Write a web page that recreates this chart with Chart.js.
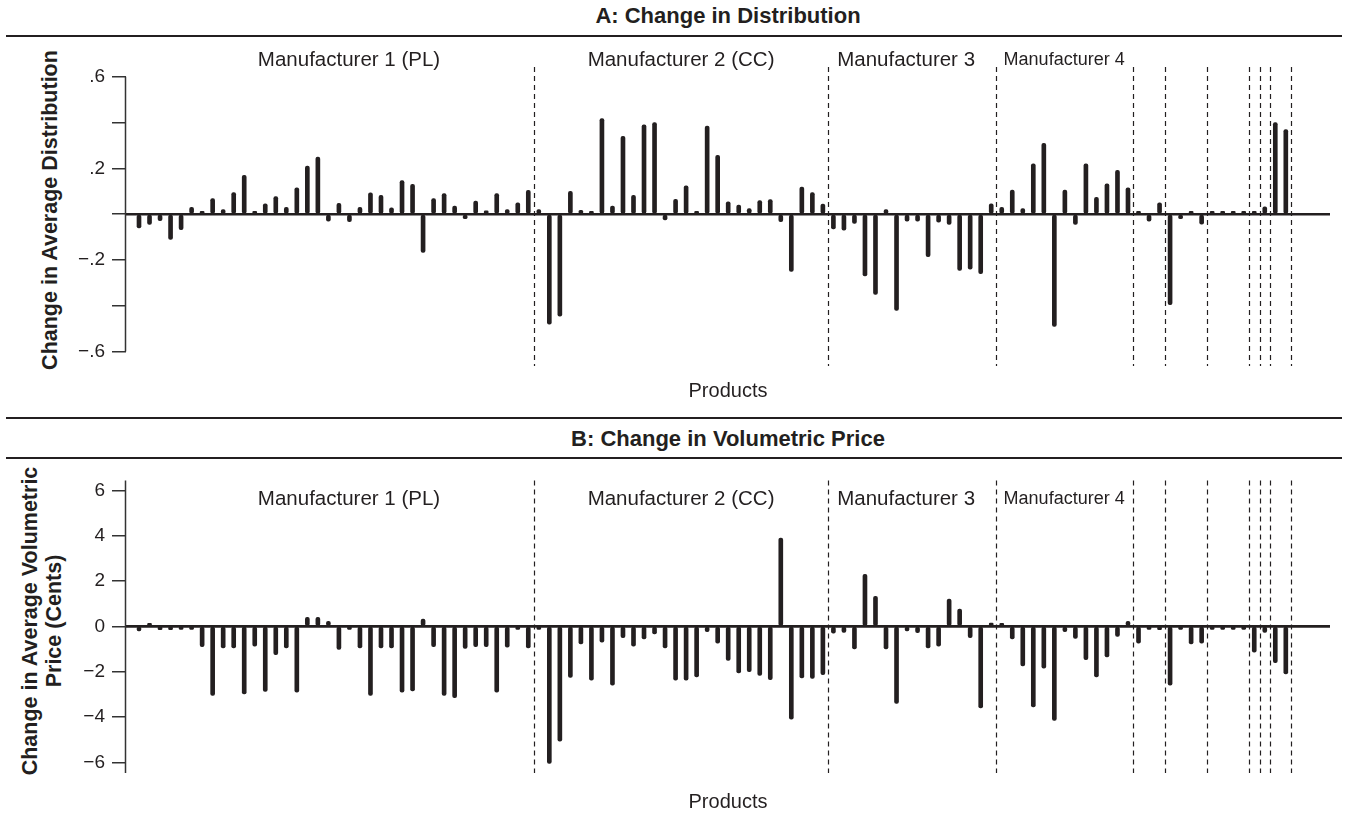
<!DOCTYPE html>
<html>
<head>
<meta charset="utf-8">
<title>Change in Distribution and Volumetric Price by Product</title>
<script src="https://cdn.jsdelivr.net/npm/chart.js@4.4.1/dist/chart.umd.min.js"></script>
<style>
  body { margin: 0; background: #fff; font-family: 'Liberation Sans', Arial, Helvetica, sans-serif; color: #231f20; }
  #page { position: relative; width: 1347px; height: 819px; overflow: hidden; }
  .rule { position: absolute; left: 6px; width: 1336px; height: 2px; background: #231f20; }
  .ptitle { position: absolute; left: 126px; width: 1204px; text-align: center; font-weight: bold; font-size: 22px; line-height: 24px; }
  .xtitle { position: absolute; left: 126px; width: 1204px; text-align: center; font-size: 20px; line-height: 22px; }
  .ytitle { position: absolute; font-weight: bold; font-size: 21.5px; line-height: 24px; text-align: center; white-space: nowrap;
            transform: translate(-50%, -50%) rotate(-90deg); }
  canvas { position: absolute; left: 0; }
</style>
</head>
<body>
<div id="page">
  <div class="ptitle" style="top:4px">A: Change in Distribution</div>
  <div class="rule" style="top:35px"></div>
  <div class="ytitle" style="left:50px; top:210px">Change in Average Distribution</div>
  <canvas id="panelA" width="1347" height="370" style="top:40px"></canvas>
  <div class="xtitle" style="top:379px">Products</div>

  <div class="rule" style="top:417px"></div>
  <div class="ptitle" style="top:427px">B: Change in Volumetric Price</div>
  <div class="rule" style="top:457px"></div>
  <div class="ytitle" style="left:42px; top:621px">Change in Average Volumetric<br>Price (Cents)</div>
  <canvas id="panelB" width="1347" height="357" style="top:462px"></canvas>
  <div class="xtitle" style="top:790px">Products</div>
</div>

<script>
// Change in average distribution, one value per product (products ordered by manufacturer)
const distChange = [
  -0.06, -0.045, -0.028, -0.11, -0.067, 0.03, 0.005, 0.068, 0.02, 0.095,
  0.17, 0.005, 0.045, 0.077, 0.03, 0.115, 0.21, 0.25, -0.03, 0.047,
  -0.033, 0.03, 0.093, 0.082, 0.028, 0.147, 0.13, -0.167, 0.068, 0.09,
  0.036, -0.02, 0.057, 0.015, 0.09, 0.02, 0.05, 0.104,
  0.02, -0.48, -0.445, 0.1, 0.017, 0.01, 0.418, 0.035, 0.34, 0.083,
  0.39, 0.40, -0.025, 0.065, 0.124, 0.01, 0.385, 0.257, 0.054, 0.04,
  0.025, 0.06, 0.064, -0.033, -0.25, 0.118, 0.095, 0.044,
  -0.064, -0.07, -0.04, -0.27, -0.35, 0.02, -0.42, -0.03, -0.03, -0.185,
  -0.035, -0.045, -0.245, -0.24, -0.26, 0.045,
  0.03, 0.105, 0.025, 0.22, 0.31, -0.49, 0.105, -0.045, 0.22, 0.074,
  0.133, 0.192, 0.115,
  0.005, -0.03, 0.05,
  -0.395, -0.02, 0.005, -0.043,
  0.003, 0.003, 0.003, 0.003,
  0.003,
  0.032,
  0.4, 0.37
];

// Change in average volumetric price (cents), same product order
const priceChange = [
  -0.2, 0.05, -0.15, -0.15, -0.12, -0.1, -0.9, -3.05, -0.95, -0.95,
  -2.98, -0.87, -2.87, -1.25, -0.95, -2.9, 0.4, 0.4, 0.22, -1.02,
  -0.12, -0.95, -3.05, -0.95, -0.95, -2.9, -2.85, 0.32, -0.9, -3.05,
  -3.15, -0.97, -0.9, -0.9, -2.9, -0.92, -0.08, -0.95,
  -0.05, -6.05, -5.07, -2.25, -0.78, -2.37, -0.7, -2.6, -0.5, -0.87,
  -0.55, -0.33, -0.95, -2.37, -2.37, -2.23, -0.23, -0.74, -1.5, -2.05,
  -2.0, -2.17, -2.35, 3.9, -4.1, -2.27, -2.3, -2.13,
  -0.3, -0.27, -1.0, 2.3, 1.33, -1.0, -3.4, -0.2, -0.28, -0.95,
  -0.87, 1.2, 0.76, -0.5, -3.6, 0.15,
  0.05, -0.55, -1.75, -3.55, -1.85, -4.15, -0.23, -0.53, -1.47, -2.23,
  -1.35, -0.44, 0.22,
  -0.74, -0.05, -0.15,
  -2.6, -0.05, -0.77, -0.74,
  -0.08, -0.08, -0.08, -0.05,
  -1.14,
  -0.27,
  -1.6, -2.1
];

// Product numbers along the horizontal axis
const productNo = distChange.map((_, i) => i + 1);

// Last product of each manufacturer group; a dashed separator follows each one
const groupEnds = [38, 66, 82, 95, 98, 102, 106, 107, 108, 110];

// Manufacturer captions and the product position each is centred on
const groupNames = ['Manufacturer 1 (PL)', 'Manufacturer 2 (CC)', 'Manufacturer 3', 'Manufacturer 4'];
const groupNameAt = [20.96, 52.52, 73.91, 88.93];

// Tick values and tick labels of the two value axes
const distTicks = [-0.6, -0.4, -0.2, 0, 0.2, 0.4, 0.6];
const distTickLabels = ['\u2212.6', '', '\u2212.2', '', '.2', '', '.6'];
const priceTicks = [-6, -4, -2, 0, 2, 4, 6];
const priceTickLabels = ['\u22126', '\u22124', '\u22122', '0', '2', '4', '6'];

const INK = '#231f20';
const FONT = "'Liberation Sans', Arial, Helvetica, sans-serif";
Chart.defaults.font.family = FONT;
Chart.defaults.color = INK;

// Separators, zero line, value-axis line and group captions
const panelDecor = {
  id: 'panelDecor',
  afterDatasetsDraw(chart, args, o) {
    const { ctx, chartArea: a, scales: { x, y } } = chart;
    ctx.save();
    ctx.strokeStyle = INK;
    ctx.lineWidth = 1.2;
    ctx.setLineDash([5, 4]);
    groupEnds.forEach(g => {
      const px = Math.round(x.getPixelForValue(g + 0.5)) + 0.5;
      ctx.beginPath();
      ctx.moveTo(px, a.top);
      ctx.lineTo(px, a.bottom);
      ctx.stroke();
    });
    ctx.setLineDash([]);

    const y0 = y.getPixelForValue(0);
    ctx.lineWidth = 2.6;
    ctx.beginPath();
    ctx.moveTo(a.left, y0);
    ctx.lineTo(a.right, y0);
    ctx.stroke();

    ctx.strokeStyle = '#333';
    ctx.lineWidth = 1.5;
    ctx.beginPath();
    ctx.moveTo(a.left - 0.5, y.getPixelForValue(o.axisFrom));
    ctx.lineTo(a.left - 0.5, y.getPixelForValue(o.axisTo));
    ctx.stroke();

    ctx.fillStyle = INK;
    ctx.textAlign = 'center';
    ctx.textBaseline = 'middle';
    const ly = y.getPixelForValue(o.captionAt);
    groupNames.forEach((name, i) => {
      ctx.font = (i === 3 ? 18 : 20.5) + 'px ' + FONT;
      ctx.fillText(name, x.getPixelForValue(groupNameAt[i]), ly);
    });
    ctx.restore();
  }
};

function makePanel(id, values, yMin, yMax, ticks, tickLabels, pad, decor) {
  return new Chart(document.getElementById(id), {
    type: 'bar',
    data: {
      datasets: [{
        data: values.map((v, i) => ({ x: productNo[i], y: v })),
        backgroundColor: INK,
        barThickness: 4,
        borderRadius: 2,
        borderSkipped: false,
        minBarLength: 3
      }]
    },
    options: {
      responsive: false,
      animation: false,
      layout: { padding: { left: 0, right: 17, top: pad.top, bottom: pad.bottom } },
      plugins: { legend: { display: false }, tooltip: { enabled: false }, panelDecor: decor },
      scales: {
        x: { type: 'linear', display: false, offset: false, min: -0.236, max: 114.2, grid: { offset: false } },
        y: {
          min: yMin,
          max: yMax,
          afterBuildTicks: s => { s.ticks = ticks.map(v => ({ value: v })); },
          afterFit: s => { s.width = 126; },
          ticks: {
            autoSkip: false,
            padding: 7,
            font: { size: 19 },
            color: INK,
            callback: (v, i) => tickLabels[i]
          },
          grid: { drawOnChartArea: false, drawTicks: true, tickLength: 14, color: '#333', lineWidth: 1.5 },
          border: { display: false }
        }
      }
    },
    plugins: [panelDecor]
  });
}

makePanel('panelA', distChange, -0.663, 0.643, distTicks, distTickLabels,
  { top: 27, bottom: 44 }, { axisFrom: -0.6, axisTo: 0.6, captionAt: 0.672 });
makePanel('panelB', priceChange, -6.47, 6.44, priceTicks, priceTickLabels,
  { top: 14, bottom: 46 }, { axisFrom: -6.47, axisTo: 6.44, captionAt: 5.6 });
</script>
</body>
</html>
